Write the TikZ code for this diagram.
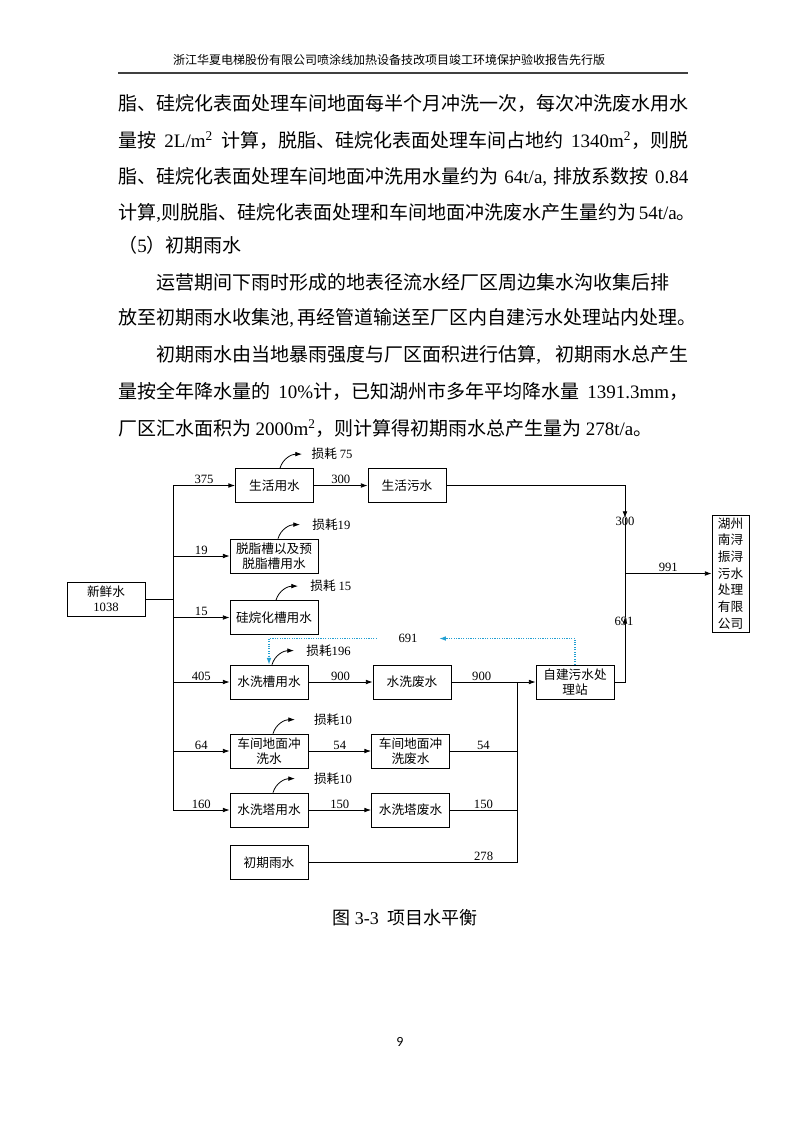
\documentclass[tikz,border=0pt]{standalone}
\usepackage{fontspec}
\setmainfont{Noto Sans CJK SC}
\newfontfamily\enfont{Liberation Serif}
\newfontfamily\pagefont{Carlito}
\usepackage{xcolor}
\usetikzlibrary{arrows.meta,positioning}

\XeTeXlinebreaklocale "zh"
\XeTeXlinebreakskip=0pt plus 1pt minus 0.6pt

\newcommand{\la}[1]{{\enfont #1}}
\newcommand{\bodyfont}{\fontsize{14.25pt}{14.25pt}\selectfont}
\newcommand{\diafont}{\fontsize{9.5pt}{11.5pt}\selectfont}
\definecolor{recblue}{RGB}{35,160,210}

\tikzset{
  box/.style={draw, line width=0.6pt, minimum width=58.5pt, minimum height=25.5pt,
    inner sep=1pt, align=center, font=\diafont},
  pipe/.style={line width=0.6pt},
  flow/.style={pipe, -{Latex[length=5pt,width=3.5pt]}},
  num/.style={font=\diafont, inner sep=1pt},
  recycle/.style={recblue, line width=0.8pt, densely dotted,
    -{Latex[length=5pt,width=3.5pt]}},
  textline/.style={anchor=west, inner sep=0pt, font=\bodyfont},
}

\begin{document}
\begin{tikzpicture}[x=0.75pt,y=-0.75pt]
\fill[white] (0,0) rectangle (800,1132);
\useasboundingbox (0,0) rectangle (800,1132);

% page header
\node[inner sep=0pt] (head) at (400.5,60)
  {\fontsize{9pt}{9pt}\selectfont\makebox[341pt][s]{浙江华夏电梯股份有限公司喷涂线加热设备技改项目竣工环境保护验收报告先行版}};
\draw[line width=0.8pt, black!75] (118,73) -- (688,73);

% text above the figure
\node[textline] (p1) at (118,103) {\makebox[427.5pt][s]{脂、硅烷化表面处理车间地面每半个月冲洗一次，每次冲洗废水用水}};
\node[textline] (p2) at (118,140) {\makebox[427.5pt][s]{量按 \la{2L/m\textsuperscript{2}} 计算，脱脂、硅烷化表面处理车间占地约 \la{1340m\textsuperscript{2}}，则脱}};
\node[textline] (p3) at (118,177) {\makebox[427.5pt][s]{脂、硅烷化表面处理车间地面冲洗用水量约为 \la{64t/a,} 排放系数按 \la{0.84}}};
\node[textline] (p4) at (118,213) {\makebox[427.5pt][s]{计算\la{,}则脱脂、硅烷化表面处理和车间地面冲洗废水产生量约为 \la{54t/a}。}};
\node[textline] (p5) at (118,245) {（\la{5}）初期雨水};
\node[textline] (p6) at (156,282) {\makebox[399pt][s]{运营期间下雨时形成的地表径流水经厂区周边集水沟收集后排}};
\node[textline] (p7) at (118,318) {\makebox[427.5pt][s]{放至初期雨水收集池\la{,} 再经管道输送至厂区内自建污水处理站内处理。}};
\node[textline] (p8) at (156,355) {\makebox[399pt][s]{初期雨水由当地暴雨强度与厂区面积进行估算\la{,} 初期雨水总产生}};
\node[textline] (p9) at (118,391) {\makebox[427.5pt][s]{量按全年降水量的 \la{10\%}计，已知湖州市多年平均降水量 \la{1391.3mm}，}};
\node[textline] (p10) at (118,428) {厂区汇水面积为 \la{2000m\textsuperscript{2}}，则计算得初期雨水总产生量为 \la{278t/a}。};

% boxes
\node[box] (fresh) at (106,599) {新鲜水\\\la{1038}};
\node[box] (live) at (274.5,485.5) {生活用水};
\node[box] (livewaste) at (407,485.5) {生活污水};
\node[box, minimum width=66pt] (degrease) at (274,556) {脱脂槽以及预\\脱脂槽用水};
\node[box, minimum width=66pt] (silane) at (274,617.5) {硅烷化槽用水};
\node[box] (rinse) at (269,682) {水洗槽用水};
\node[box] (rinsewaste) at (412,682) {水洗废水};
\node[box] (station) at (575,682) {自建污水处\\理站};
\node[box] (floor) at (269,751) {车间地面冲\\洗水};
\node[box] (floorwaste) at (410.5,751) {车间地面冲\\洗废水};
\node[box] (tower) at (269,810) {水洗塔用水};
\node[box] (towerwaste) at (410.5,810) {水洗塔废水};
\node[box] (rain) at (269,862.5) {初期雨水};
\node[box, minimum width=27.75pt, minimum height=87.75pt,
  font=\fontsize{9.5pt}{12.5pt}\selectfont] (plant) at (730.5,573.5)
  {湖州\\南浔\\振浔\\污水\\处理\\有限\\公司};

% fresh water split
\coordinate (trunk) at (173,599);
\draw[pipe] (fresh) -- (trunk);
\draw[pipe] (trunk |- live.west) -- (trunk |- tower.west);
\foreach \b/\v in {live/375, degrease/19, silane/15, rinse/405, floor/64, tower/160}
  \draw[flow] (trunk |- \b.west) -- node[num, above] {\la{\v}} (\b.west);

% losses
\foreach \b/\dx/\g/\t in {live/5.5/6/损耗 \la{75}, degrease/4/8/损耗\la{19},
    silane/2/8/损耗 \la{15}, rinse/3/8/损耗\la{196}, floor/4/13/损耗\la{10},
    tower/4/13/损耗\la{10}}
  \draw[flow] (\b.north) ++(\dx,0) .. controls +(3,-10) and +(-10,0) .. ++(22,-14)
    node[num, right=\g pt] (\b-loss) {\t};

% flows
\draw[flow] (live) -- node[num, above] {\la{300}} (livewaste);
\draw[flow] (rinse) -- node[num, above] {\la{900}} (rinsewaste);
\draw[flow] (rinsewaste) -- node[num, above, pos=.36] {\la{900}} (station);
\draw[flow] (floor) -- node[num, above] {\la{54}} (floorwaste);
\draw[flow] (tower) -- node[num, above] {\la{150}} (towerwaste);

\coordinate (coll) at (517,682);
\draw[pipe] (floorwaste) -- node[num, above] {\la{54}} (floorwaste -| coll);
\draw[pipe] (towerwaste) -- node[num, above] {\la{150}} (towerwaste -| coll);
\draw[pipe] (rain) -- node[num, above, pos=.84] {\la{278}} (rain -| coll);
\draw[pipe] (coll) -- (coll |- rain);

% to the treatment plant
\coordinate (down300) at (625,518);
\coordinate (up691) at (625,617);
\draw[flow] (livewaste) -| (down300);
\draw[pipe] (down300) -- (up691);
\draw[flow] (station) -| (up691);
\node[num] (n300) at (625,521) {\la{300}};
\node[num] (n691) at (624,621) {\la{691}};
\draw[flow] (down300 |- plant) -- node[num, above] {\la{991}} (plant);

% reuse
\node[num, minimum width=46.5pt] (r691) at (408,638.5) {\la{691}};
\draw[recycle] (station.north) |- (r691.east);
\draw[recycle] (r691.west) -| (rinse.north);

% caption and page number
\node (cap) at (405,918) {\fontsize{13.5pt}{13.5pt}\selectfont 图~\la{3-3}~~项目水平衡};
\node (pageno) at (400,1042) {\pagefont\fontsize{10.5pt}{10.5pt}\selectfont 9};
\end{tikzpicture}
\end{document}
